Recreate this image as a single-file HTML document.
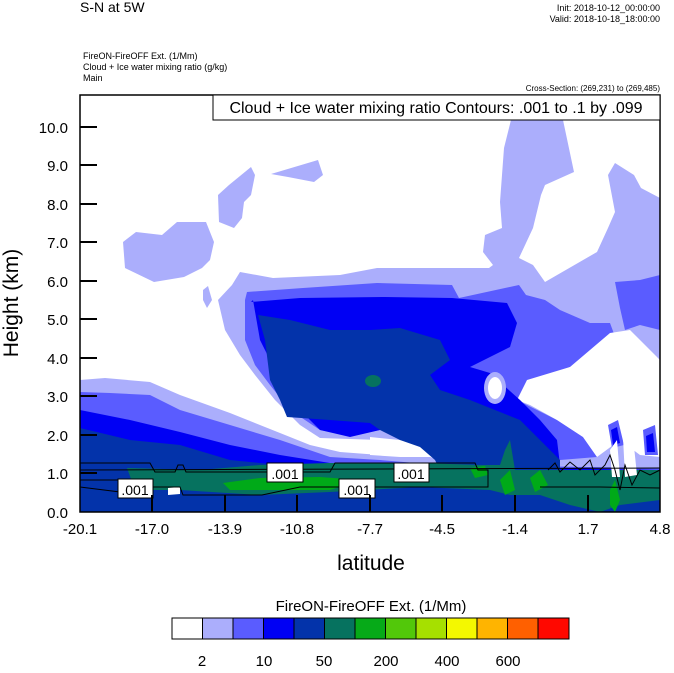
<!DOCTYPE html>
<html><head><meta charset="utf-8"><style>
body{margin:0;background:#fff;width:674px;height:668px;overflow:hidden;font-family:"Liberation Sans",sans-serif}
svg text{font-family:"Liberation Sans",sans-serif}
</style></head><body>
<svg width="674" height="668" xmlns="http://www.w3.org/2000/svg">
<text x="80" y="12" font-size="14">S-N at 5W</text>
<text x="660" y="11" font-size="9" text-anchor="end">Init: 2018-10-12_00:00:00</text>
<text x="660" y="22" font-size="9" text-anchor="end">Valid: 2018-10-18_18:00:00</text>
<text x="83" y="59" font-size="9">FireON-FireOFF Ext.   (1/Mm)</text>
<text x="83" y="70" font-size="9">Cloud + Ice water mixing ratio   (g/kg)</text>
<text x="83" y="81" font-size="9">Main</text>
<text x="660" y="91" font-size="8" text-anchor="end">Cross-Section: (269,231) to (269,485)</text>
<defs><clipPath id="c"><rect x="80" y="95" width="580" height="417"/></clipPath></defs>
<g clip-path="url(#c)">
<rect x="80" y="95" width="580" height="417" fill="#fff"/>
<!-- light blue -->
<g fill="#abaefc">
<path d="M123,242 L136,232 L162,235 L177,222 L206,222 L214,242 L210,260 L202,268 L184,277 L154,282 L125,268Z"/>
<path d="M219,222 L218,195 L229,185 L251,167 L255,175 L251,195 L244,202 L242,218 L234,228Z"/>
<path d="M271,174 L318,160 L323,175 L314,182 L288,177Z"/>
<path d="M203,290 L208,286 L212,300 L207,308 L203,300Z"/>
<path d="M80,380 L105,378 L150,382 L180,395 L230,413 L280,433 L310,445 L340,452 L380,455 L430,457 L440,460 L660,470 L660,512 L80,512Z"/>
<path d="M240,272 L232,285 L218,300 L225,330 L240,355 L255,375 L275,400 L300,425 L320,438 L380,440 L430,447 L440,460 L660,470 L660,198 L641,188 L634,175 L615,163 L608,175 L615,212 L608,228 L597,252 L545,282 L533,265 L519,258 L533,228 L541,195 L545,185 L574,172 L563,120 L511,120 L504,148 L500,202 L502,228 L485,235 L483,252 L493,265 L489,268 L452,268 L377,268 L340,275 L273,278Z"/>
</g>
<!-- medium -->
<g fill="#5a5cff">
<path d="M80,392 L110,393 L150,395 L180,410 L230,425 L280,440 L330,457 L380,460 L440,465 L660,468 L660,512 L80,512Z"/>
<path d="M245,300 L247,292 L303,288 L377,283 L452,285 L459,298 L519,285 L526,295 L545,300 L560,310 L590,323 L610,323 L620,350 L570,367 L530,383 L517,400 L557,420 L583,437 L597,457 L560,460 L520,455 L480,440 L450,443 L440,437 L420,425 L380,430 L350,435 L320,430 L290,410 L270,385 L255,365 L245,340Z"/>
<path d="M615,282 L640,280 L660,275 L660,330 L640,325 L625,330 L620,308Z"/>
</g>
<!-- white right -->
<path fill="#fff" d="M527,380 L570,367 L610,333 L630,330 L657,357 L660,360 L660,457 L640,455 L620,440 L597,457 L583,437 L557,420 L530,405 L517,400Z"/>
<!-- blue -->
<g fill="#0000f4">
<path d="M80,410 L130,420 L180,432 L230,445 L280,455 L330,463 L380,465 L660,470 L660,512 L80,512Z"/>
<path d="M253,300 L251,302 L300,298 L385,297 L452,298 L507,303 L517,323 L510,347 L470,367 L490,373 L520,400 L540,420 L557,440 L560,465 L500,462 L440,445 L440,437 L420,423 L380,430 L350,437 L320,430 L305,415 L285,390 L275,370 L260,340Z"/>
</g>
<g fill="#5a5cff"><path d="M608,425 L618,420 L624,445 L612,448Z M643,430 L655,425 L658,455 L645,455Z"/></g>
<g fill="#0000f4"><path d="M611,430 L617,427 L620,443 L613,445Z M646,436 L653,433 L655,452 L647,452Z"/></g>
<!-- light/white hole -->
<ellipse cx="495" cy="388" rx="11" ry="16" fill="#abaefc"/>
<ellipse cx="495" cy="388" rx="7" ry="11" fill="#fff"/>
<path fill="#abaefc" d="M370,433 L405,436 L435,445 L437,458 L432,457 L430,447 L400,440 L370,437Z"/>
<path fill="#fff" d="M370,437 L400,440 L430,447 L432,457 L400,457 L370,455Z"/>
<!-- dark blue -->
<g fill="#0333aa">
<path d="M80,428 L130,440 L180,445 L230,460 L280,465 L330,468 L380,468 L660,472 L660,512 L80,512Z"/>
<path d="M258,315 L290,320 L330,330 L370,330 L400,328 L440,340 L450,360 L430,375 L440,390 L470,400 L500,412 L520,420 L540,440 L560,460 L560,475 L440,470 L435,460 L420,447 L400,440 L380,430 L370,423 L330,420 L287,417 L280,400 L270,380 L265,340Z"/>
</g>
<ellipse cx="373" cy="381" rx="8" ry="6" fill="#06725f"/>
<!-- teal / green -->
<path fill="#06725f" d="M127,468 L200,470 L260,465 L330,463 L420,463 L480,465 L500,465 L505,450 L510,440 L515,470 L540,470 L600,470 L660,470 L660,500 L620,505 L600,512 L570,505 L540,495 L510,495 L490,490 L420,487 L330,492 L260,495 L180,490 L135,490Z"/>
<path fill="#00aa18" d="M223,483 L260,478 L320,477 L360,480 L330,490 L260,490 L230,490Z M470,468 L485,466 L488,475 L475,478Z M500,480 L510,470 L515,490 L505,495Z M530,478 L540,470 L548,485 L535,492Z M610,490 L615,480 L620,500 L615,512 L610,505Z"/>
<g fill="#fff"><path d="M610,450 L617,440 L620,477 L612,477Z M623,437 L633,437 L637,475 L625,477Z M168,488 L180,487 L180,494 L168,495Z"/></g>
</g>
<g fill="none" stroke="#000" stroke-width="1">
<path d="M80,463 L150,463 L155,472 L175,472 L178,465 L183,465 L186,472 L330,472 L335,463 L475,463 L478,470 L488,470 L488,487 L380,487 L340,487 L300,487 L262,495 L183,495 L180,487 L150,487 L130,480 L80,480"/>
<path d="M80,487 L120,492 L150,492"/>
<path d="M80,470 L660,468"/>
<path d="M548,470 L555,463 L560,472 L570,462 L580,470 L590,460 L595,475 L605,465 L610,455 L615,470 L620,490 L625,465 L632,485 L640,470 L650,475 L660,470"/>
<path d="M540,487 L600,487 L660,488"/>
</g>
<g font-size="14" text-anchor="middle">
<rect x="118" y="479" width="35" height="19" fill="#fff" stroke="#000"/><text x="135" y="495">.001</text>
<rect x="267" y="463" width="36" height="19" fill="#fff" stroke="#000"/><text x="285" y="479">.001</text>
<rect x="339" y="479" width="36" height="19" fill="#fff" stroke="#000"/><text x="357" y="495">.001</text>
<rect x="394" y="463" width="35" height="19" fill="#fff" stroke="#000"/><text x="411" y="479">.001</text>
</g>
<rect x="80" y="95" width="580" height="417" fill="none" stroke="#000" stroke-width="1.5"/>
<rect x="213" y="95" width="447" height="25" fill="#fff" stroke="#000"/>
<text x="436" y="113" font-size="16" text-anchor="middle">Cloud + Ice water mixing ratio Contours: .001 to .1 by .099</text>
<g stroke="#000" stroke-width="2">
<line x1="80" y1="127" x2="97" y2="127"/><line x1="80" y1="165" x2="97" y2="165"/><line x1="80" y1="204" x2="97" y2="204"/><line x1="80" y1="242" x2="97" y2="242"/><line x1="80" y1="281" x2="97" y2="281"/><line x1="80" y1="319" x2="97" y2="319"/><line x1="80" y1="358" x2="97" y2="358"/><line x1="80" y1="396" x2="97" y2="396"/><line x1="80" y1="435" x2="97" y2="435"/><line x1="80" y1="473" x2="97" y2="473"/>
<line x1="152" y1="512" x2="152" y2="495"/><line x1="225" y1="512" x2="225" y2="495"/><line x1="297" y1="512" x2="297" y2="495"/><line x1="370" y1="512" x2="370" y2="495"/><line x1="442" y1="512" x2="442" y2="495"/><line x1="515" y1="512" x2="515" y2="495"/><line x1="588" y1="512" x2="588" y2="495"/>
</g>
<g font-size="15" text-anchor="end">
<text x="68" y="133">10.0</text><text x="68" y="171">9.0</text><text x="68" y="210">8.0</text><text x="68" y="248">7.0</text><text x="68" y="287">6.0</text><text x="68" y="325">5.0</text><text x="68" y="364">4.0</text><text x="68" y="402">3.0</text><text x="68" y="441">2.0</text><text x="68" y="479">1.0</text><text x="68" y="518">0.0</text>
</g>
<g font-size="15" text-anchor="middle">
<text x="80" y="534">-20.1</text><text x="152" y="534">-17.0</text><text x="225" y="534">-13.9</text><text x="297" y="534">-10.8</text><text x="370" y="534">-7.7</text><text x="442" y="534">-4.5</text><text x="515" y="534">-1.4</text><text x="588" y="534">1.7</text><text x="660" y="534">4.8</text>
</g>
<text x="371" y="570" font-size="21" text-anchor="middle">latitude</text>
<text transform="translate(18,303) rotate(-90)" font-size="21" text-anchor="middle">Height (km)</text>
<text x="371" y="611" font-size="15" text-anchor="middle">FireON-FireOFF Ext.  (1/Mm)</text>
<g stroke="#000" stroke-width="1">
<rect x="172" y="618" width="30.5" height="21" fill="#fff"/>
<rect x="202.5" y="618" width="30.5" height="21" fill="#abaefc"/>
<rect x="233" y="618" width="30.5" height="21" fill="#5a5cff"/>
<rect x="263.5" y="618" width="30.5" height="21" fill="#0000f4"/>
<rect x="294" y="618" width="30.5" height="21" fill="#0333aa"/>
<rect x="324.5" y="618" width="30.5" height="21" fill="#06725f"/>
<rect x="355" y="618" width="30.5" height="21" fill="#06aa18"/>
<rect x="385.5" y="618" width="30.5" height="21" fill="#52c80a"/>
<rect x="416" y="618" width="30.5" height="21" fill="#a6e000"/>
<rect x="446.5" y="618" width="30.5" height="21" fill="#f4f800"/>
<rect x="477" y="618" width="30.5" height="21" fill="#ffb400"/>
<rect x="507.5" y="618" width="30.5" height="21" fill="#ff6000"/>
<rect x="538" y="618" width="31" height="21" fill="#ff0800"/>
</g>
<g font-size="15" text-anchor="middle">
<text x="202" y="666">2</text><text x="264" y="666">10</text><text x="324" y="666">50</text><text x="386" y="666">200</text><text x="447" y="666">400</text><text x="508" y="666">600</text>
</g>
</svg>
</body></html>
